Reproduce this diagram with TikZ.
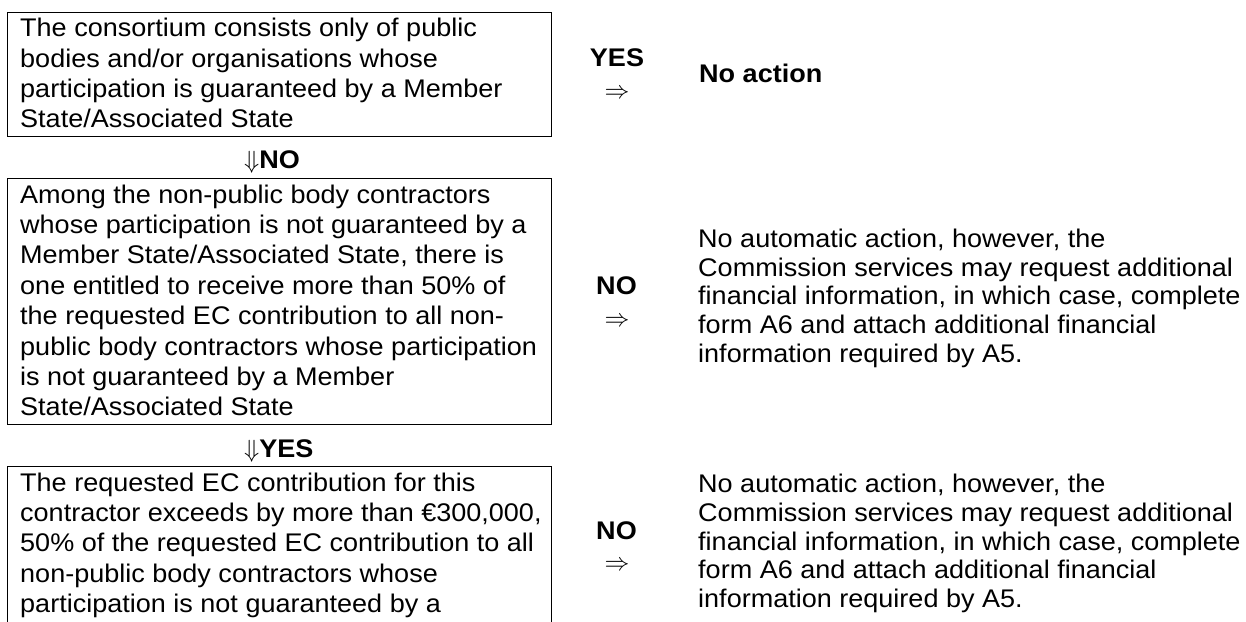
\documentclass[tikz,border=0pt]{standalone}
\usepackage{fontspec}
\setmainfont{Liberation Sans}[FakeStretch=1.06]
\begin{document}
\begin{tikzpicture}[x=1pt,y=-1pt,
  frame/.style={draw, line width=1.1pt, anchor=north west, inner sep=0pt},
  body/.style={anchor=base west, inner sep=0pt, font=\fontsize{25.5}{30.4}\selectfont},
  side/.style={anchor=base west, inner sep=0pt, font=\fontsize{25.5}{28.75}\selectfont},
  tag/.style={anchor=base, inner sep=0pt, font=\fontsize{25.5}{30}\selectfont\bfseries},
  down/.style={anchor=base west, inner sep=0pt, font=\fontsize{25.5}{30}\selectfont\bfseries},
  arr/.style={inner sep=0pt, font=\fontsize{25.5}{30}\selectfont}]
\useasboundingbox (0,0) rectangle (1246,621);
\clip (0,0) rectangle (1246,621);
% boxes
\node[frame, minimum width=543.7pt, minimum height=123.7pt] (box1) at (7.3,12.3) {};
\node[frame, minimum width=543.7pt, minimum height=246pt] (box2) at (7.3,178) {};
\node[frame, minimum width=543.7pt, minimum height=260pt] (box3) at (7.3,466) {};
% box texts
\node[body] (t1) at (20,36.7) {\parbox[t]{540pt}{\raggedright The consortium consists only of public\\
bodies and/or organisations whose\\
participation is guaranteed by a Member\\
State/Associated State}};
\node[body] (t2) at (20,203) {\parbox[t]{540pt}{\raggedright Among the non-public body contractors\\
whose participation is not guaranteed by a\\
Member State/Associated State, there is\\
one entitled to receive more than 50\% of\\
the requested EC contribution to all non-\\
public body contractors whose participation\\
is not guaranteed by a Member\\
State/Associated State}};
\node[body] (t3) at (20,491) {\parbox[t]{540pt}{\raggedright The requested EC contribution for this\\
contractor exceeds by more than €300,000,\\
50\% of the requested EC contribution to all\\
non-public body contractors whose\\
participation is not guaranteed by a}};
% down labels
\node[down] (dn1) at (244,168) {$\Downarrow$NO};
\node[down] (dn2) at (244,457) {$\Downarrow$YES};
% side labels
\node[tag] (yes1) at (617,66.7) {YES};
\node[arr] (ar1) at (617,94) {$\Rightarrow$};
\node[anchor=base west, inner sep=0pt, font=\fontsize{25.5}{30}\selectfont\bfseries] (r1) at (699,82.7) {No action};
\node[tag] (no2) at (616.5,294) {NO};
\node[arr] (ar2) at (617,321.7) {$\Rightarrow$};
\node[side] (r2) at (698,247.4) {\parbox[t]{560pt}{\raggedright No automatic action, however, the\\
Commission services may request additional\\
financial information, in which case, complete\\
form A6 and attach additional financial\\
information required by A5.}};
\node[tag] (no3) at (616.5,539.3) {NO};
\node[arr] (ar3) at (617,566) {$\Rightarrow$};
\node[side] (r3) at (698,492.7) {\parbox[t]{560pt}{\raggedright No automatic action, however, the\\
Commission services may request additional\\
financial information, in which case, complete\\
form A6 and attach additional financial\\
information required by A5.}};
\end{tikzpicture}
\end{document}
